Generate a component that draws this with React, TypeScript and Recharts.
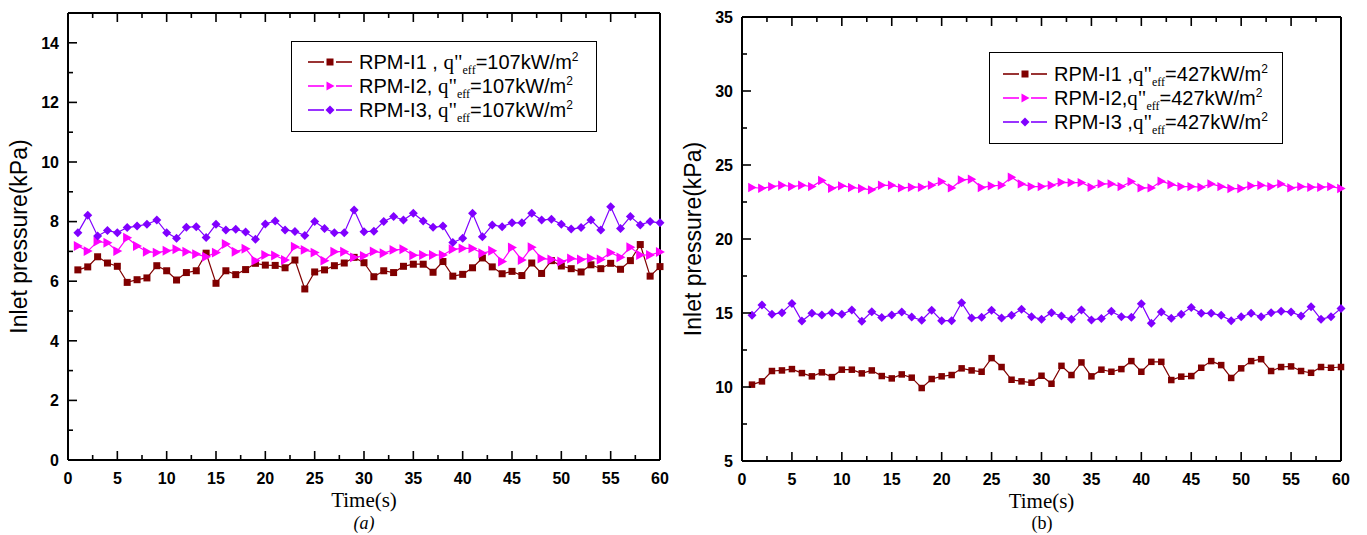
import React from 'react';
import { LineChart, Line, XAxis, YAxis, Legend, Label } from 'recharts';

// ---------- data ----------
const TIME = [1,2,3,4,5,6,7,8,9,10,11,12,13,14,15,16,17,18,19,20,21,22,23,24,25,26,27,28,29,30,31,32,33,34,35,36,37,38,39,40,41,42,43,44,45,46,47,48,49,50,51,52,53,54,55,56,57,58,59,60];

const A_I1 = [6.38,6.48,6.82,6.61,6.50,5.96,6.05,6.11,6.52,6.35,6.04,6.29,6.35,6.94,5.93,6.35,6.22,6.39,6.60,6.54,6.53,6.45,6.71,5.74,6.31,6.38,6.52,6.61,6.80,6.62,6.15,6.35,6.29,6.50,6.57,6.57,6.30,6.66,6.17,6.23,6.45,6.78,6.48,6.25,6.33,6.19,6.61,6.26,6.69,6.51,6.42,6.31,6.55,6.42,6.60,6.40,6.69,7.23,6.17,6.49];
const A_I2 = [7.18,7.01,7.33,7.29,7.01,7.46,7.18,6.99,6.96,7.02,7.07,6.99,6.91,6.82,6.96,7.25,6.99,7.09,6.69,6.88,6.86,6.71,7.16,7.05,6.96,6.69,6.99,6.99,6.80,6.85,7.00,6.94,7.05,7.07,6.87,6.88,6.88,6.88,7.07,7.10,7.10,6.94,7.02,6.66,7.13,6.71,7.14,6.76,6.73,6.66,6.76,6.73,6.77,6.73,6.96,6.80,7.14,6.88,6.88,6.98];
const A_I3 = [7.63,8.21,7.52,7.70,7.63,7.80,7.85,7.91,8.05,7.63,7.44,7.81,7.83,7.47,7.91,7.72,7.74,7.65,7.41,7.92,8.02,7.72,7.67,7.53,8.00,7.77,7.63,7.63,8.39,7.66,7.68,8.00,8.17,8.05,8.28,8.02,7.81,7.85,7.30,7.44,8.28,7.49,7.89,7.83,7.96,7.96,8.28,8.05,8.08,7.91,7.75,7.80,8.05,7.72,8.50,7.77,8.17,7.89,8.00,7.96];

const B_I1 = [10.16,10.38,11.08,11.12,11.21,10.94,10.72,10.99,10.67,11.17,11.17,10.92,11.12,10.74,10.58,10.85,10.63,9.93,10.54,10.72,10.81,11.26,11.12,11.03,11.95,11.35,10.49,10.38,10.29,10.76,10.22,11.43,10.81,11.66,10.72,11.17,11.03,11.21,11.75,11.03,11.70,11.70,10.47,10.70,10.74,11.30,11.75,11.48,10.61,11.26,11.75,11.88,11.08,11.35,11.39,11.08,10.96,11.35,11.30,11.35];
const B_I2 = [23.48,23.43,23.54,23.63,23.54,23.63,23.54,23.95,23.43,23.59,23.48,23.41,23.32,23.63,23.63,23.45,23.50,23.50,23.63,23.88,23.45,23.99,24.04,23.48,23.59,23.63,24.17,23.72,23.54,23.54,23.63,23.83,23.81,23.81,23.50,23.72,23.72,23.54,23.88,23.45,23.45,23.90,23.68,23.54,23.54,23.50,23.72,23.54,23.41,23.41,23.59,23.63,23.54,23.72,23.45,23.54,23.50,23.50,23.54,23.41];
const B_I3 = [14.84,15.54,14.91,15.02,15.65,14.46,14.98,14.87,15.02,14.91,15.20,14.44,15.09,14.69,14.87,15.07,14.73,14.51,15.18,14.48,14.48,15.70,14.66,14.71,15.18,14.66,14.84,15.25,14.75,14.57,15.02,14.80,14.57,15.20,14.53,14.62,15.11,14.75,14.71,15.63,14.30,15.07,14.64,14.91,15.38,14.98,14.98,14.84,14.48,14.75,14.98,14.75,15.02,15.11,15.07,14.80,15.43,14.57,14.75,15.31];

const X_TICKS = [0,2.5,5,7.5,10,12.5,15,17.5,20,22.5,25,27.5,30,32.5,35,37.5,40,42.5,45,47.5,50,52.5,55,57.5,60];
const A_Y_TICKS = [0,1,2,3,4,5,6,7,8,9,10,11,12,13,14,15];
const B_Y_TICKS = [5,7.5,10,12.5,15,17.5,20,22.5,25,27.5,30,32.5,35];

const SERIES_NAMES = ['RPM-I1', 'RPM-I2', 'RPM-I3'];
const A_LEGEND_SEP = [' , ', ', ', ', '];
const B_LEGEND_SEP = [' ,', ',', ' ,'];
const A_FLUX = '=107kW/m';
const B_FLUX = '=427kW/m';

const COLORS = ['#800000', '#ff00ff', '#8000ff'];

// ---------- helpers ----------
const buildRows = (a: number[], b: number[], c: number[]) =>
  TIME.map((t, i) => ({ t, s1: a[i], s2: b[i], s3: c[i] }));

const TICK_FONT = { fontFamily: '"Liberation Sans", Arial, sans-serif', fontSize: 16, fontWeight: 700 } as const;

const tickFactory = (side: string, isMajor: (v: number) => boolean, showLabel: boolean) => (props: any) => {
  const { x, y, payload, index } = props;
  const v = payload.value as number;
  const major = isMajor(v);
  const len = major ? 9 : 5;
  let line: any = null;
  let label: any = null;
  if (side === 'bottom') {
    line = <line x1={x} x2={x} y1={y} y2={y - len} stroke="#000" strokeWidth={1.6} />;
    if (showLabel && major) label = <text x={x} y={y + 24} textAnchor="middle" fill="#000" {...TICK_FONT}>{v}</text>;
  } else if (side === 'top') {
    line = <line x1={x} x2={x} y1={y} y2={y + len} stroke="#000" strokeWidth={1.6} />;
  } else if (side === 'left') {
    line = <line x1={x} x2={x + len} y1={y} y2={y} stroke="#000" strokeWidth={1.6} />;
    if (showLabel && major) label = <text x={x - 9} y={y} dy="0.36em" textAnchor="end" fill="#000" {...TICK_FONT}>{v}</text>;
  } else {
    line = <line x1={x} x2={x - len} y1={y} y2={y} stroke="#000" strokeWidth={1.6} />;
  }
  return <g key={`tk-${side}-${index}`}>{line}{label}</g>;
};

const squareDot = (color: string, s: number) => (p: any) => (
  <rect key={`sq-${p.index}`} x={p.cx - s / 2} y={p.cy - s / 2} width={s} height={s} fill={color} />
);
const triDot = (color: string, s: number) => (p: any) => (
  <polygon key={`tr-${p.index}`} points={`${p.cx - s * 0.45},${p.cy - s * 0.55} ${p.cx + s * 0.55},${p.cy} ${p.cx - s * 0.45},${p.cy + s * 0.55}`} fill={color} />
);
const diaDot = (color: string, s: number) => (p: any) => (
  <polygon key={`di-${p.index}`} points={`${p.cx},${p.cy - s / 2} ${p.cx + s / 2},${p.cy} ${p.cx},${p.cy + s / 2} ${p.cx - s / 2},${p.cy}`} fill={color} />
);

const Marker = ({ kind, color }: { kind: number; color: string }) => {
  const cx = 22, cy = 8;
  if (kind === 0) return <rect x={cx - 3.5} y={cy - 3.5} width={7} height={7} fill={color} />;
  if (kind === 1) return <polygon points={`${cx - 3.5},${cy - 4.5} ${cx + 4.5},${cy} ${cx - 3.5},${cy + 4.5}`} fill={color} />;
  return <polygon points={`${cx},${cy - 4.5} ${cx + 4.5},${cy} ${cx},${cy + 4.5} ${cx - 4.5},${cy}`} fill={color} />;
};

const makeLegend = (seps: string[], flux: string, w: number, h: number, padTop: number, padLeft: number) => () => (
  <div style={{ width: w, height: h, boxSizing: 'border-box', border: '1.3px solid #000', background: '#fff', paddingTop: padTop, paddingLeft: padLeft }}>
    {SERIES_NAMES.map((name, i) => (
      <div key={name} style={{ display: 'flex', alignItems: 'center', height: 24, whiteSpace: 'nowrap', color: '#000' }}>
        <svg width={44} height={16} style={{ flex: 'none' }}>
          <line x1={0} x2={16} y1={8} y2={8} stroke={COLORS[i]} strokeWidth={1.6} />
          <line x1={28} x2={44} y1={8} y2={8} stroke={COLORS[i]} strokeWidth={1.6} />
          <Marker kind={i} color={COLORS[i]} />
        </svg>
        <span style={{ marginLeft: 7, fontFamily: '"Liberation Sans", Arial, sans-serif', fontSize: 20, lineHeight: '22px' }}>
          {name}{seps[i]}
          <span style={{ fontFamily: '"Liberation Serif", "Times New Roman", serif', fontSize: 21 }}>q"</span>
          <span style={{ fontFamily: '"Liberation Serif", "Times New Roman", serif', fontSize: 12, position: 'relative', top: 5, lineHeight: '12px' }}>eff</span>
          {flux}
          <span style={{ fontSize: 12, position: 'relative', top: -8, lineHeight: '12px' }}>2</span>
        </span>
      </div>
    ))}
  </div>
);

type PanelProps = {
  rows: any[];
  width: number;
  height: number;
  yDomain: [number, number];
  yTicks: number[];
  yMajor: (v: number) => boolean;
  leftW: number;
  rightW: number;
  topH: number;
  bottomH: number;
  legend: () => any;
  legendLeft: number;
  legendTop: number;
  yLabelX: number;
  dotSizes: number[];
};

const Panel = (p: PanelProps) => {
  const xMajor = (v: number) => v % 5 === 0;
  return (
    <LineChart width={p.width} height={p.height} data={p.rows} margin={{ top: 0, right: 0, bottom: 0, left: 0 }}>
      <XAxis xAxisId="b" dataKey="t" type="number" domain={[0, 60]} ticks={X_TICKS} interval={0}
        orientation="bottom" height={p.bottomH} tickSize={0} tickMargin={0} tickLine={false}
        axisLine={{ stroke: '#000', strokeWidth: 2 }} tick={tickFactory('bottom', xMajor, true)}>
        <Label content={(lp: any) => {
          const vb = lp.viewBox || {};
          return <text x={vb.x + vb.width / 2} y={vb.y + 47} textAnchor="middle" fill="#000"
            style={{ fontFamily: '"Liberation Serif", "Times New Roman", serif', fontSize: 21 }}>Time(s)</text>;
        }} />
      </XAxis>
      <XAxis xAxisId="t" dataKey="t" type="number" domain={[0, 60]} ticks={X_TICKS} interval={0}
        orientation="top" height={p.topH} tickSize={0} tickMargin={0} tickLine={false}
        axisLine={{ stroke: '#000', strokeWidth: 2 }} tick={tickFactory('top', xMajor, false)} />
      <YAxis yAxisId="l" type="number" domain={p.yDomain} ticks={p.yTicks} interval={0}
        orientation="left" width={p.leftW} tickSize={0} tickMargin={0} tickLine={false}
        axisLine={{ stroke: '#000', strokeWidth: 2 }} tick={tickFactory('left', p.yMajor, true)}>
        <Label content={(lp: any) => {
          const vb = lp.viewBox || {};
          const cy = vb.y + vb.height / 2;
          return <text x={p.yLabelX} y={cy} transform={`rotate(-90 ${p.yLabelX} ${cy})`} textAnchor="middle" dominantBaseline="central" fill="#000"
            style={{ fontFamily: '"Liberation Sans", Arial, sans-serif', fontSize: 23 }}>Inlet pressure(kPa)</text>;
        }} />
      </YAxis>
      <YAxis yAxisId="r" type="number" domain={p.yDomain} ticks={p.yTicks} interval={0}
        orientation="right" width={p.rightW} tickSize={0} tickMargin={0} tickLine={false}
        axisLine={{ stroke: '#000', strokeWidth: 2 }} tick={tickFactory('right', p.yMajor, false)} />
      <Legend layout="horizontal" verticalAlign="middle" align="center" content={p.legend}
        wrapperStyle={{ position: 'absolute', left: p.legendLeft, top: p.legendTop, width: 'auto', height: 'auto' }} />
      <Line xAxisId="b" yAxisId="l" dataKey="s1" name="RPM-I1" stroke={COLORS[0]} strokeWidth={1.2}
        dot={squareDot(COLORS[0], p.dotSizes[0])} activeDot={false} isAnimationActive={false} />
      <Line xAxisId="b" yAxisId="l" dataKey="s2" name="RPM-I2" stroke={COLORS[1]} strokeWidth={1.2}
        dot={triDot(COLORS[1], p.dotSizes[1])} activeDot={false} isAnimationActive={false} />
      <Line xAxisId="b" yAxisId="l" dataKey="s3" name="RPM-I3" stroke={COLORS[2]} strokeWidth={1.2}
        dot={diaDot(COLORS[2], p.dotSizes[2])} activeDot={false} isAnimationActive={false} />
    </LineChart>
  );
};

const ROWS_A = buildRows(A_I1, A_I2, A_I3);
const ROWS_B = buildRows(B_I1, B_I2, B_I3);

export default function App() {
  return (
    <div style={{ position: 'absolute', left: 0, top: 0, width: 1367, height: 535, background: '#fff', overflow: 'hidden' }}>
      <div style={{ position: 'absolute', left: 0, top: 0 }}>
        <Panel rows={ROWS_A} width={680} height={535} yDomain={[0, 15]} yTicks={A_Y_TICKS}
          yMajor={(v) => v % 2 === 0} leftW={68} rightW={20} topH={13} bottomH={75}
          legend={makeLegend(A_LEGEND_SEP, A_FLUX, 306, 91, 8, 16)} legendLeft={291} legendTop={41}
          yLabelX={19} dotSizes={[7, 9, 9]} />
      </div>
      <div style={{ position: 'absolute', left: 680, top: 0 }}>
        <Panel rows={ROWS_B} width={687} height={535} yDomain={[5, 35]} yTicks={B_Y_TICKS}
          yMajor={(v) => v % 5 === 0} leftW={62} rightW={26} topH={17} bottomH={74}
          legend={makeLegend(B_LEGEND_SEP, B_FLUX, 294, 92, 9, 13)} legendLeft={309} legendTop={52}
          yLabelX={13} dotSizes={[6.5, 8.5, 9]} />
      </div>
      <div style={{ position: 'absolute', left: 344, top: 513, width: 40, textAlign: 'center', lineHeight: '20px', fontFamily: '"Liberation Serif", "Times New Roman", serif', fontStyle: 'italic', fontSize: 18, color: '#000' }}>(a)</div>
      <div style={{ position: 'absolute', left: 1022, top: 513, width: 40, textAlign: 'center', lineHeight: '20px', fontFamily: '"Liberation Serif", "Times New Roman", serif', fontSize: 18, color: '#000' }}>(b)</div>
    </div>
  );
}
